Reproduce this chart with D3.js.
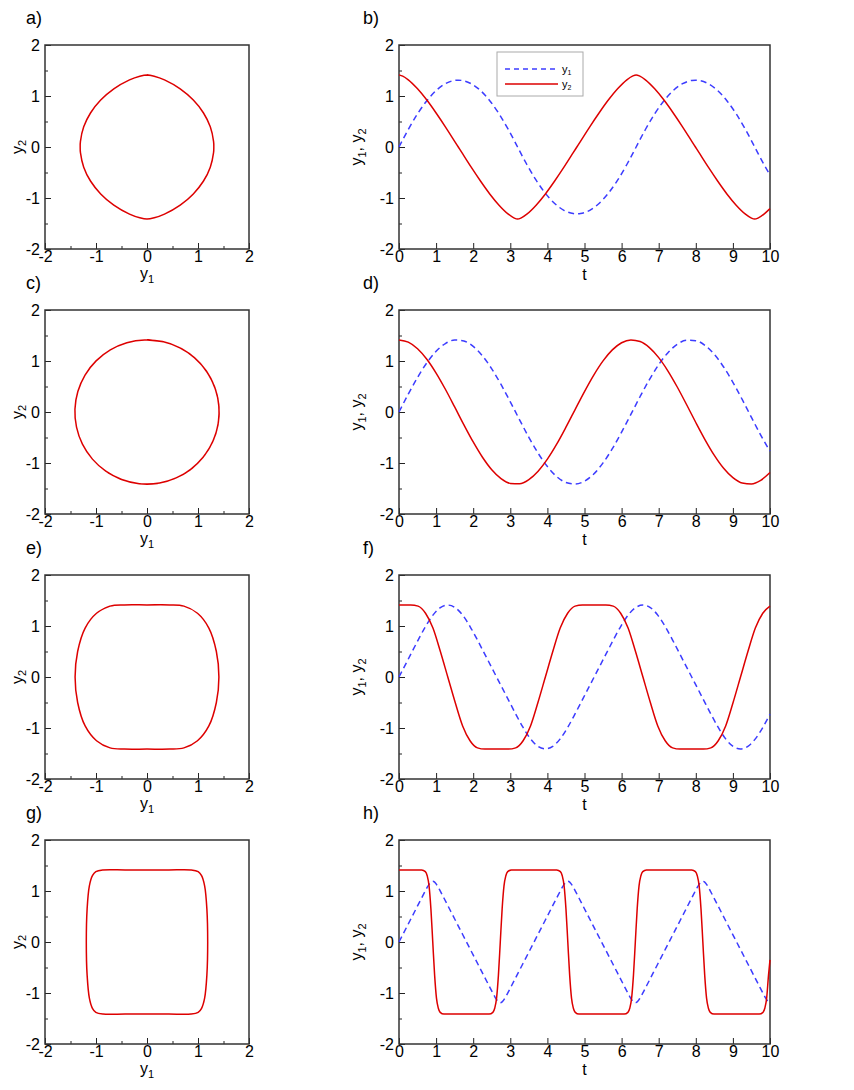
<!DOCTYPE html>
<html>
<head>
<meta charset="utf-8">
<script src="https://cdn.jsdelivr.net/npm/d3@7"></script>
<style>
  body { margin: 0; background: #fff; }
  text { font-family: "Liberation Sans", Arial, sans-serif; }
</style>
</head>
<body>
<script>
// panels a) / b)
const tA = [0, 0.1, 0.25, 0.5, 0.75, 1.0, 1.25, 1.5, 1.598, 1.696, 1.946, 2.196, 2.446, 2.696, 2.946, 3.096, 3.196,
  3.296, 3.446, 3.696, 3.946, 4.196, 4.446, 4.696, 4.794, 4.892, 5.142, 5.392, 5.642, 5.892, 6.142, 6.292, 6.392,
  6.492, 6.642, 6.892, 7.142, 7.392, 7.642, 7.892, 7.99, 8.088, 8.338, 8.588, 8.838, 9.088, 9.338, 9.488, 9.588,
  9.688, 9.838, 10];
const y1A = [0, 0.141, 0.343, 0.651, 0.908, 1.108, 1.241, 1.305, 1.310, 1.305, 1.241, 1.108, 0.908, 0.651, 0.343, 0.141, 0,
  -0.141, -0.343, -0.651, -0.908, -1.108, -1.241, -1.305, -1.310, -1.305, -1.241, -1.108, -0.908, -0.651, -0.343, -0.141, 0,
  0.141, 0.343, 0.651, 0.908, 1.108, 1.241, 1.305, 1.310, 1.305, 1.241, 1.108, 0.908, 0.651, 0.343, 0.141, 0,
  -0.141, -0.343, -0.547];
const y2A = [1.414, 1.389, 1.316, 1.140, 0.920, 0.667, 0.396, 0.112, 0, -0.112, -0.396, -0.667, -0.920, -1.140, -1.316, -1.389, -1.414,
  -1.389, -1.316, -1.140, -0.920, -0.667, -0.396, -0.112, 0, 0.112, 0.396, 0.667, 0.920, 1.140, 1.316, 1.389, 1.414,
  1.389, 1.316, 1.140, 0.920, 0.667, 0.396, 0.112, 0, -0.112, -0.396, -0.667, -0.920, -1.140, -1.316, -1.389, -1.414,
  -1.389, -1.316, -1.209];

// panels c) / d)
const tC = [0, 0.25, 0.5, 0.75, 1, 1.25, 1.5, 1.75, 2, 2.25, 2.5, 2.75, 3, 3.25, 3.5, 3.75, 4, 4.25, 4.5, 4.75, 5,
  5.25, 5.5, 5.75, 6, 6.25, 6.5, 6.75, 7, 7.25, 7.5, 7.75, 8, 8.25, 8.5, 8.75, 9, 9.25, 9.5, 9.75, 10];
const y1C = [0, 0.350, 0.678, 0.964, 1.190, 1.342, 1.411, 1.392, 1.286, 1.100, 0.846, 0.540, 0.200, -0.153, -0.496,
  -0.808, -1.070, -1.266, -1.382, -1.413, -1.356, -1.215, -0.998, -0.719, -0.395, -0.047, 0.304, 0.636, 0.929, 1.164,
  1.327, 1.407, 1.399, 1.305, 1.129, 0.883, 0.583, 0.247, -0.106, -0.452, -0.769];
const y2C = [1.414, 1.370, 1.241, 1.035, 0.764, 0.446, 0.100, -0.252, -0.588, -0.888, -1.133, -1.307, -1.400, -1.406,
  -1.324, -1.160, -0.924, -0.631, -0.298, 0.053, 0.401, 0.724, 1.002, 1.218, 1.358, 1.413, 1.381, 1.263, 1.066, 0.803,
  0.490, 0.147, -0.206, -0.545, -0.851, -1.104, -1.288, -1.393, -1.410, -1.340, -1.187];

// panels e) / f)
const tE = [0, 0.315, 0.515, 0.715, 0.915, 1.115, 1.315, 1.515, 1.715, 1.915, 2.115, 2.315, 2.63,
  2.945, 3.145, 3.345, 3.545, 3.745, 3.945, 4.145, 4.345, 4.545, 4.745, 4.945, 5.26,
  5.575, 5.775, 5.975, 6.175, 6.375, 6.575, 6.775, 6.975, 7.175, 7.375, 7.575, 7.89,
  8.205, 8.405, 8.605, 8.805, 9.005, 9.205, 9.405, 9.605, 9.805, 10];
const y1E = [0, 0.443, 0.724, 0.99, 1.213, 1.36, 1.41, 1.36, 1.213, 0.99, 0.724, 0.443, 0,
  -0.443, -0.724, -0.99, -1.213, -1.36, -1.41, -1.36, -1.213, -0.99, -0.724, -0.443, 0,
  0.443, 0.724, 0.99, 1.213, 1.36, 1.41, 1.36, 1.213, 0.99, 0.724, 0.443, 0,
  -0.443, -0.724, -0.99, -1.213, -1.36, -1.41, -1.36, -1.213, -0.99, -0.73];
const y2E = [1.414, 1.414, 1.39, 1.25, 0.96, 0.5, 0, -0.5, -0.96, -1.25, -1.39, -1.414, -1.414,
  -1.414, -1.39, -1.25, -0.96, -0.5, 0, 0.5, 0.96, 1.25, 1.39, 1.414, 1.414,
  1.414, 1.39, 1.25, 0.96, 0.5, 0, -0.5, -0.96, -1.25, -1.39, -1.414, -1.414,
  -1.414, -1.39, -1.25, -0.96, -0.5, 0, 0.5, 0.96, 1.25, 1.389];

// panels g) / h)
const tG = [0, 0.305, 0.61, 0.71, 0.76, 0.81, 0.86, 0.91, 0.96, 1.01, 1.06, 1.11, 1.21, 1.515, 1.82, 2.125,
  2.43, 2.53, 2.58, 2.63, 2.68, 2.73, 2.78, 2.83, 2.88, 2.93, 3.03, 3.335, 3.64, 3.945,
  4.25, 4.35, 4.4, 4.45, 4.5, 4.55, 4.6, 4.65, 4.7, 4.75, 4.85, 5.155, 5.46, 5.765,
  6.07, 6.17, 6.22, 6.27, 6.32, 6.37, 6.42, 6.47, 6.52, 6.57, 6.67, 6.975, 7.28, 7.585,
  7.89, 7.99, 8.04, 8.09, 8.14, 8.19, 8.24, 8.29, 8.34, 8.39, 8.49, 8.795, 9.1, 9.405,
  9.71, 9.81, 9.86, 9.91, 9.96, 10];
const y1G = [0, 0.431, 0.863, 1.003, 1.07, 1.13, 1.174, 1.19, 1.174, 1.13, 1.07, 1.003, 0.863, 0.431, 0, -0.431,
  -0.863, -1.003, -1.07, -1.13, -1.174, -1.19, -1.174, -1.13, -1.07, -1.003, -0.863, -0.431, 0, 0.431,
  0.863, 1.003, 1.07, 1.13, 1.174, 1.19, 1.174, 1.13, 1.07, 1.003, 0.863, 0.431, 0, -0.431,
  -0.863, -1.003, -1.07, -1.13, -1.174, -1.19, -1.174, -1.13, -1.07, -1.003, -0.863, -0.431, 0, 0.431,
  0.863, 1.003, 1.07, 1.13, 1.174, 1.19, 1.174, 1.13, 1.07, 1.003, 0.863, 0.431, 0, -0.431,
  -0.863, -1.003, -1.07, -1.13, -1.174, -1.187];
const y2G = [1.414, 1.414, 1.414, 1.38, 1.3, 1.1, 0.65, 0, -0.65, -1.1, -1.3, -1.38, -1.414, -1.414, -1.414, -1.414,
  -1.414, -1.38, -1.3, -1.1, -0.65, 0, 0.65, 1.1, 1.3, 1.38, 1.414, 1.414, 1.414, 1.414,
  1.414, 1.38, 1.3, 1.1, 0.65, 0, -0.65, -1.1, -1.3, -1.38, -1.414, -1.414, -1.414, -1.414,
  -1.414, -1.38, -1.3, -1.1, -0.65, 0, 0.65, 1.1, 1.3, 1.38, 1.414, 1.414, 1.414, 1.414,
  1.414, 1.38, 1.3, 1.1, 0.65, 0, -0.65, -1.1, -1.3, -1.38, -1.414, -1.414, -1.414, -1.414,
  -1.414, -1.38, -1.3, -1.1, -0.65, -0.35];

const phaseTicks = [-2, -1, 0, 1, 2];
const phaseMinor = [-1.5, -0.5, 0.5, 1.5];
const timeTicks = [0, 1, 2, 3, 4, 5, 6, 7, 8, 9, 10];
const legendNames = ["1", "2"];

const rows = [
  { left: "a)", right: "b)", t: tA, y1: y1A, y2: y2A },
  { left: "c)", right: "d)", t: tC, y1: y1C, y2: y2C },
  { left: "e)", right: "f)", t: tE, y1: y1E, y2: y2E },
  { left: "g)", right: "h)", t: tG, y1: y1G, y2: y2G },
];

const red = "#dd0000", blue = "#3c3cff", font = '"Liberation Sans", Arial, sans-serif';
const rowTop = [45, 310, 575, 840];
const boxH = 204;
const phaseLeft = 45, phaseW = 204;
const timeLeft = 399, timeW = 371;

const svg = d3.select("body").append("svg")
  .attr("width", 854)
  .attr("height", 1090);

function axes(g, x, y, w, xMajor, xMinor, yMajor, yMinor) {
  const style = s => {
    s.select(".domain").remove();
    s.selectAll("line").attr("stroke", "#222");
    s.attr("font-family", font).attr("font-size", 16);
    s.selectAll("text").attr("fill", "#000");
  };
  if (xMinor) g.append("g").attr("transform", `translate(0,${boxH})`)
    .call(d3.axisBottom(x).tickValues(xMinor).tickSize(-3).tickFormat(() => "")).call(style);
  g.append("g").attr("transform", `translate(0,${boxH})`)
    .call(d3.axisBottom(x).tickValues(xMajor).tickSize(-6).tickPadding(2).tickFormat(d => String(d))).call(style);
  g.append("g")
    .call(d3.axisLeft(y).tickValues(yMinor).tickSize(-3).tickFormat(() => "")).call(style);
  g.append("g")
    .call(d3.axisLeft(y).tickValues(yMajor).tickSize(-6).tickPadding(5).tickFormat(d => String(d))).call(style);
  g.append("rect")
    .attr("width", w).attr("height", boxH)
    .attr("fill", "none").attr("stroke", "#333").attr("stroke-width", 1.5);
}

rows.forEach((r, k) => {
  const top = rowTop[k];

  // phase portrait
  const gp = svg.append("g").attr("transform", `translate(${phaseLeft},${top})`);
  const px = d3.scaleLinear().domain([-2, 2]).range([0, phaseW]);
  const py = d3.scaleLinear().domain([-2, 2]).range([boxH, 0]);
  axes(gp, px, py, phaseW, phaseTicks, phaseMinor, phaseTicks, phaseMinor);

  gp.append("path")
    .attr("d", d3.line()
      .x(i => px(r.y1[i]))
      .y(i => py(r.y2[i]))
      .curve(d3.curveCatmullRom.alpha(0.5))(d3.range(r.t.length)))
    .attr("fill", "none").attr("stroke", red).attr("stroke-width", 1.5);

  const xt = gp.append("text").attr("x", phaseW / 2).attr("y", boxH + 30)
    .attr("text-anchor", "middle").attr("font-size", 16);
  xt.append("tspan").text("y");
  xt.append("tspan").text("1").attr("font-size", 11).attr("dy", 4);

  const yt = gp.append("text").attr("transform", `translate(-22,${boxH / 2}) rotate(-90)`)
    .attr("text-anchor", "middle").attr("font-size", 16);
  yt.append("tspan").text("y");
  yt.append("tspan").text("2").attr("font-size", 11).attr("dy", 3);

  svg.append("text").attr("x", 26).attr("y", top - 21).attr("font-size", 18).text(r.left);

  // time series
  const gt = svg.append("g").attr("transform", `translate(${timeLeft},${top})`);
  const tx = d3.scaleLinear().domain([0, 10]).range([0, timeW]);
  const ty = d3.scaleLinear().domain([-2, 2]).range([boxH, 0]);
  axes(gt, tx, ty, timeW, timeTicks, null, phaseTicks, phaseMinor);

  const lineOf = ys => d3.line()
    .x((d, i) => tx(r.t[i]))
    .y(d => ty(d))
    .curve(d3.curveMonotoneX)(ys);

  gt.append("path").attr("d", lineOf(r.y1))
    .attr("fill", "none").attr("stroke", blue).attr("stroke-width", 1.5)
    .attr("stroke-dasharray", "6,4");
  gt.append("path").attr("d", lineOf(r.y2))
    .attr("fill", "none").attr("stroke", red).attr("stroke-width", 1.5);

  gt.append("text").attr("x", timeW / 2).attr("y", boxH + 31)
    .attr("text-anchor", "middle").attr("font-size", 16).text("t");

  const ytt = gt.append("text").attr("transform", `translate(-37,${boxH / 2}) rotate(-90)`)
    .attr("text-anchor", "middle").attr("font-size", 16);
  ytt.append("tspan").text("y");
  ytt.append("tspan").text("1").attr("font-size", 11).attr("dy", 4);
  ytt.append("tspan").text(", y").attr("dy", -4);
  ytt.append("tspan").text("2").attr("font-size", 11).attr("dy", 4);

  svg.append("text").attr("x", 363).attr("y", top - 21).attr("font-size", 18).text(r.right);

  // legend only in b)
  if (k === 0) {
    const lg = gt.append("g").attr("transform", "translate(98,7)");
    lg.append("rect").attr("width", 86).attr("height", 44)
      .attr("fill", "#fff").attr("stroke", "#aaa").attr("stroke-width", 1);
    legendNames.forEach((n, j) => {
      const yy = 17 + j * 15;
      lg.append("line").attr("x1", 8).attr("x2", 61).attr("y1", yy).attr("y2", yy)
        .attr("stroke", j === 0 ? blue : red).attr("stroke-width", 1.5)
        .attr("stroke-dasharray", j === 0 ? "5,4" : null);
      const lt = lg.append("text").attr("x", 65).attr("y", yy + 3.5).attr("font-size", 11);
      lt.append("tspan").text("y");
      lt.append("tspan").text(n).attr("font-size", 7).attr("dy", 2);
    });
  }
});
</script>
</body>
</html>
